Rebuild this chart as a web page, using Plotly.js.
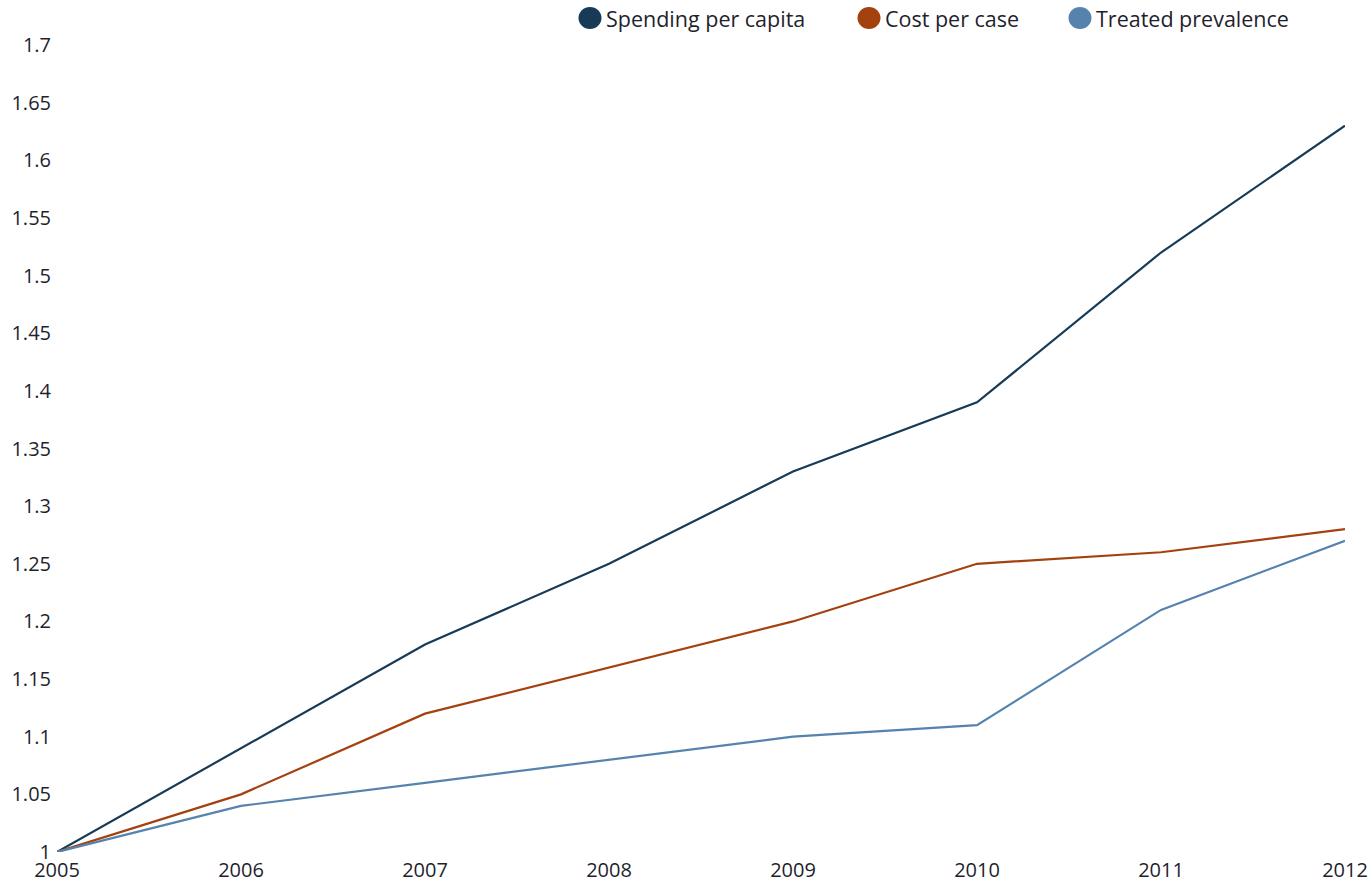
<!DOCTYPE html>
<html>
<head>
<meta charset="utf-8">
<script src="https://cdn.plot.ly/plotly-3.0.1.min.js"></script>
<style>html,body{margin:0;padding:0;background:#fff;}#chart{width:1372px;height:888px;}</style>
</head>
<body>
<div id="chart"></div>
<script>
const years = [2005, 2006, 2007, 2008, 2009, 2010, 2011, 2012];
const spendingPerCapita = [1, 1.09, 1.18, 1.25, 1.33, 1.39, 1.52, 1.63];
const costPerCase = [1, 1.05, 1.12, 1.16, 1.20, 1.25, 1.26, 1.28];
const treatedPrevalence = [1, 1.04, 1.06, 1.08, 1.10, 1.11, 1.21, 1.27];
const yTicks = [1, 1.05, 1.1, 1.15, 1.2, 1.25, 1.3, 1.35, 1.4, 1.45, 1.5, 1.55, 1.6, 1.65, 1.7];
const seriesNames = ['Spending per capita', 'Cost per case', 'Treated prevalence'];
const colors = ['#173a56', '#a4420f', '#5583ad'];

const W = 1372, H = 888;
const margin = {l: 57, r: 27, t: 45, b: 36, autoexpand: false};
const series = [spendingPerCapita, costPerCase, treatedPrevalence];
const traces = series.map((vals, i) => ({
  x: years, y: vals, name: seriesNames[i], type: 'scatter', mode: 'lines',
  line: {color: colors[i], width: 2.2}, showlegend: false
}));

// Custom legend: circle + text placed above the plot (pixel positions converted to paper coords)
const legendX = [590, 869, 1080];
const legendY = 18;
const plotW = W - margin.l - margin.r, plotH = H - margin.t - margin.b;
const px2x = px => (px - margin.l) / plotW;
const py2y = py => (H - margin.b - py) / plotH;
const shapes = legendX.map((cx, i) => ({
  type: 'circle', xref: 'paper', yref: 'paper', xsizemode: 'pixel', ysizemode: 'pixel',
  xanchor: px2x(cx), yanchor: py2y(legendY), x0: -11.5, x1: 11.5, y0: -11, y1: 11,
  fillcolor: colors[i], line: {width: 0}
}));
const annotations = legendX.map((cx, i) => ({
  xref: 'paper', yref: 'paper', x: px2x(cx + 14), y: py2y(legendY), xanchor: 'left', yanchor: 'middle',
  text: seriesNames[i], showarrow: false, font: {size: 21.5, color: '#1f1f2e'}
}));

const layout = {
  width: W, height: H, margin: margin,
  paper_bgcolor: '#fff', plot_bgcolor: '#fff',
  font: {family: '"Open Sans", sans-serif', size: 20, color: '#1f1f2e'},
  showlegend: false, shapes: shapes, annotations: annotations,
  xaxis: {range: [2005, 2012], tickvals: years, ticktext: years.map(String),
          showgrid: false, zeroline: false, showline: false, ticks: '', ticklabelstandoff: 4},
  yaxis: {range: [1, 1.7], tickvals: yTicks, ticktext: yTicks.map(v => String(v)),
          showgrid: false, zeroline: false, showline: false, ticks: '', ticklabelstandoff: 5}
};
Plotly.newPlot('chart', traces, layout, {displayModeBar: false, staticPlot: true});
</script>
</body>
</html>
